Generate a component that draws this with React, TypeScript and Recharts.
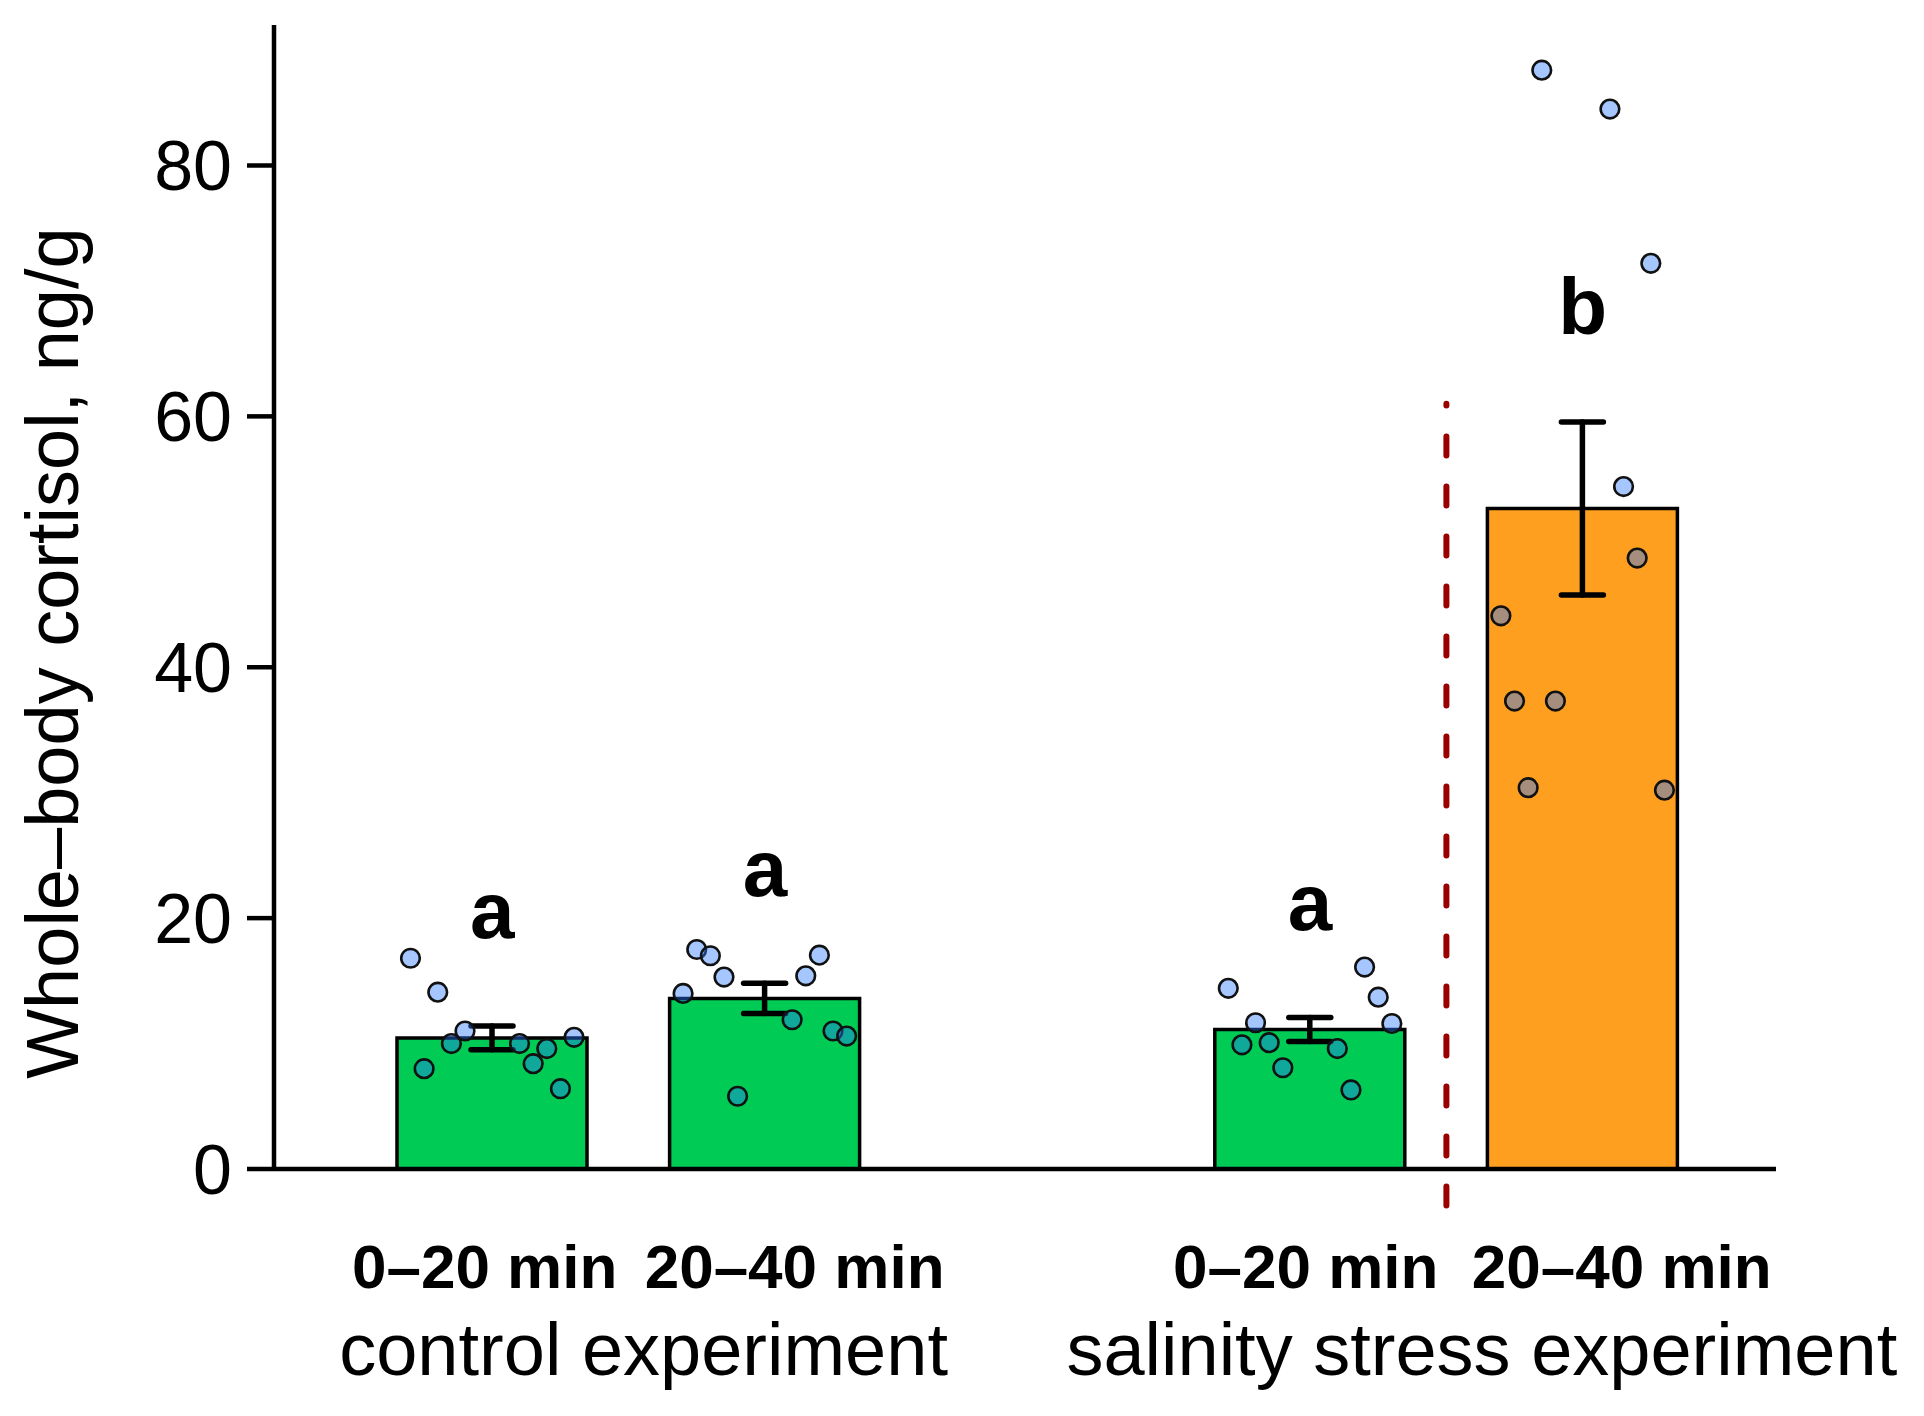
import React from 'react';
import {
  ComposedChart,
  Bar,
  Cell,
  ErrorBar,
  Scatter,
  XAxis,
  YAxis,
  ReferenceLine,
  Label,
} from 'recharts';

const FONT = '"Liberation Sans", Arial, Helvetica, sans-serif';

// ---- data ----
const categories = ['control 0–20', 'control 20–40', 'gap', 'salinity 0–20', 'salinity 20–40'];
const meanValues = [10.45, 13.6, 0, 11.12, 52.65];
const seValues = [0.95, 1.2, 0, 0.95, 6.9];
const letterLabels = ['a', 'a', '', 'a', 'b'];
const barColors = ['#00CC55', '#00CC55', '#00CC55', '#00CC55', '#FF9F1F'];

const jitterOffsets = [-0.3, -0.25, -0.2, -0.15, -0.1, 0.1, 0.15, 0.2, 0.25, 0.3];
const control0to20 = [16.8, 8.0, 14.1, 10.0, 11.0, 10.0, 8.4, 9.6, 6.4, 10.5];
const control20to40 = [14.0, 17.5, 17.0, 15.3, 5.8, 11.9, 15.4, 17.05, 11.0, 10.6];
const salinity0to20 = [14.4, 9.9, 11.66, 10.07, 8.07, 9.6, 6.3, 16.1, 13.7, 11.6];
const salinity20to40 = [44.1, 37.3, 30.4, 87.6, 37.3, 84.5, 54.4, 48.7, 72.2, 30.2];
const pointGroups = [
  { index: 0, values: control0to20 },
  { index: 1, values: control20to40 },
  { index: 3, values: salinity0to20 },
  { index: 4, values: salinity20to40 },
];

const yTicks = [0, 20, 40, 60, 80];
const yDomain: [number, number] = [0, 91.2];
const xDomain: [number, number] = [0, 5];
const timeTickPositions = [0.472, 1.609, 3.484, 4.643];
const timeTickLabels = ['0–20 min', '20–40 min', '0–20 min', '20–40 min'];
const groupTickPositions = [1.055, 4.13];
const groupTickLabels = ['control experiment', 'salinity stress experiment'];
const dividerX = 4;
const dividerFrom = -2.9;
const dividerTo = 61;
const yTitle = 'Whole–body cortisol, ng/g';

// ---- derived tables ----
const barData = categories.map((c, i) => ({ cat: c, mean: meanValues[i], se: seValues[i] }));
const pointData = pointGroups.flatMap((g) =>
  g.values.map((v, j) => ({ x: g.index + 0.5 + jitterOffsets[j], y: v }))
);
const letterData = letterLabels
  .map((l, i) => ({ x: i + 0.5, y: meanValues[i] + seValues[i] + 7, letter: l }))
  .filter((d) => d.letter !== '');

const PAD = { left: 82, right: 57 };

const TimeTick = (props: any) => {
  const { x, y, payload } = props;
  const idx = timeTickPositions.indexOf(payload.value);
  return (
    <text x={x} y={y + 119} textAnchor="middle" fontSize={62} fontWeight="bold" fontFamily={FONT} fill="#000">
      {timeTickLabels[idx]}
    </text>
  );
};

const GroupTick = (props: any) => {
  const { x, y, payload } = props;
  const idx = groupTickPositions.indexOf(payload.value);
  return (
    <text x={x} y={y + 86} textAnchor="middle" fontSize={74} fontFamily={FONT} fill="#000">
      {groupTickLabels[idx]}
    </text>
  );
};

const YTitle = (props: any) => {
  const vb = props.viewBox || { x: 0, y: 25, width: 274, height: 1144 };
  const x = vb.x + 78;
  const y = vb.y + vb.height / 2 + 56;
  return (
    <text
      x={x}
      y={y}
      transform={`rotate(-90, ${x}, ${y})`}
      textAnchor="middle"
      fontSize={74}
      fontFamily={FONT}
      fill="#000"
    >
      {yTitle}
    </text>
  );
};

const renderPoint = (props: any) => (
  <circle
    cx={props.cx}
    cy={props.cy}
    r={9.3}
    fill="#2878FF"
    fillOpacity={0.42}
    stroke="#111"
    strokeWidth={2.6}
  />
);

const renderLetter = (props: any) => (
  <text
    x={props.cx}
    y={props.cy}
    textAnchor="middle"
    fontSize={80}
    fontWeight="bold"
    fontFamily={FONT}
    fill="#000"
  >
    {props.payload.letter}
  </text>
);

export default function App() {
  return (
    <div style={{ position: 'absolute', left: 0, top: 0, width: 1924, height: 1416, overflow: 'hidden', background: '#fff' }}>
      <ComposedChart
        width={1924}
        height={1416}
        data={barData}
        margin={{ top: 25, right: 148, bottom: 7, left: 0 }}
      >
        <XAxis xAxisId="cat" dataKey="cat" type="category" hide padding={PAD} />
        <XAxis
          xAxisId="b_group"
          dataKey="x"
          type="number"
          domain={xDomain}
          allowDataOverflow
          ticks={groupTickPositions}
          interval={0}
          padding={PAD}
          height={120}
          tickSize={0}
          tickMargin={0}
          axisLine={false}
          tickLine={false}
          tick={<GroupTick />}
        />
        <XAxis
          xAxisId="a_time"
          dataKey="x"
          type="number"
          domain={xDomain}
          allowDataOverflow
          ticks={timeTickPositions}
          interval={0}
          padding={PAD}
          height={120}
          tickSize={0}
          tickMargin={0}
          axisLine={{ stroke: '#000', strokeWidth: 4.5 }}
          tickLine={false}
          tick={<TimeTick />}
        />
        <YAxis
          yAxisId="left"
          type="number"
          domain={yDomain}
          allowDataOverflow
          ticks={yTicks}
          interval={0}
          width={274}
          tickSize={27}
          tickMargin={15}
          axisLine={{ stroke: '#000', strokeWidth: 4.5 }}
          tickLine={{ stroke: '#000', strokeWidth: 4.5 }}
          tick={{ fontSize: 70, fill: '#000', fontFamily: FONT }}
        >
          <Label content={<YTitle />} />
        </YAxis>
        <YAxis yAxisId="pts" dataKey="y" type="number" domain={yDomain} allowDataOverflow hide />
        <Bar
          xAxisId="cat"
          yAxisId="left"
          dataKey="mean"
          barSize={190}
          stroke="#000"
          strokeWidth={3.5}
          isAnimationActive={false}
        >
          {barData.map((d, i) => (
            <Cell key={d.cat} fill={barColors[i]} stroke="#000" strokeWidth={3.5} />
          ))}
          <ErrorBar
            dataKey="se"
            direction="y"
            width={21}
            stroke="#000"
            strokeWidth={5.5}
            strokeLinecap="round"
            isAnimationActive={false}
          />
        </Bar>
        <Scatter
          xAxisId="a_time"
          yAxisId="pts"
          data={pointData}
          dataKey="y"
          shape={renderPoint}
          isAnimationActive={false}
        />
        <Scatter
          xAxisId="a_time"
          yAxisId="pts"
          data={letterData}
          dataKey="y"
          shape={renderLetter}
          isAnimationActive={false}
        />
        <ReferenceLine
          xAxisId="a_time"
          yAxisId="pts"
          segment={[
            { x: dividerX, y: dividerFrom },
            { x: dividerX, y: dividerTo },
          ]}
          ifOverflow="visible"
          stroke="#9B0000"
          strokeWidth={6}
          strokeDasharray="19 31"
          strokeLinecap="round"
        />
      </ComposedChart>
    </div>
  );
}
